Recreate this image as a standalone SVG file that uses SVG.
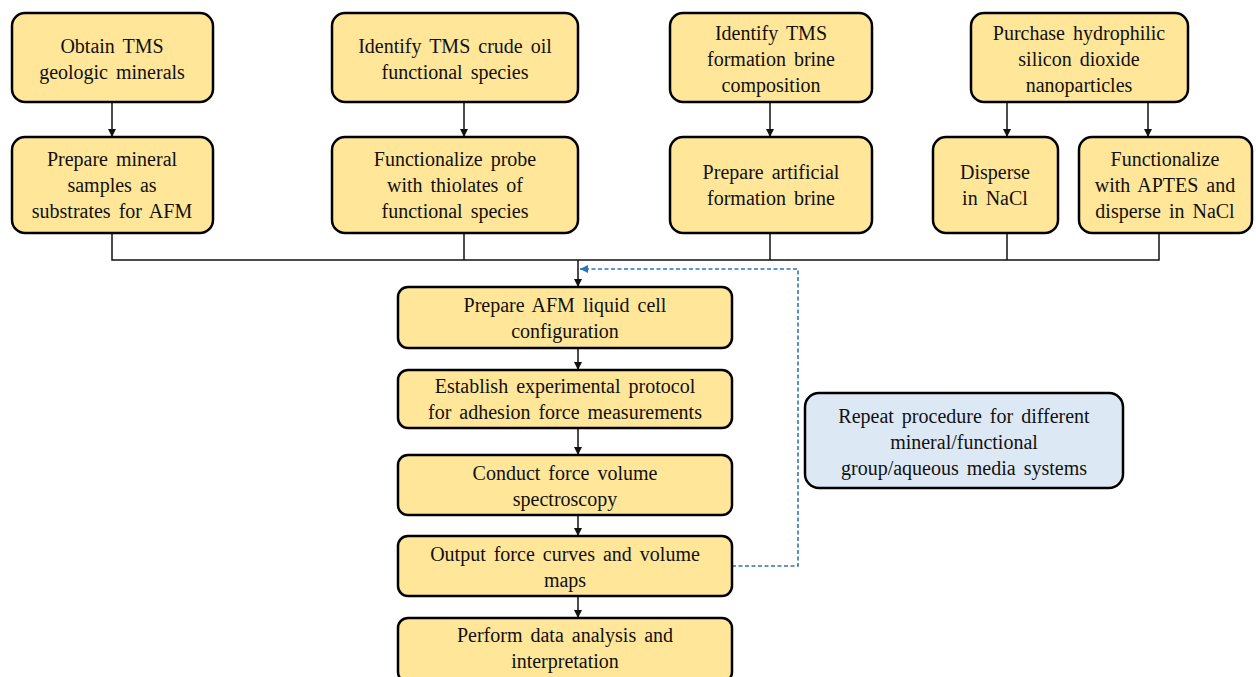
<svg xmlns="http://www.w3.org/2000/svg" width="1256" height="677" viewBox="0 0 1256 677">
<style>
.box{fill:#ffe699;stroke:#000;stroke-width:2.5}
.rep{fill:#dde8f5;stroke:#000;stroke-width:2.5}
text{font-family:'Liberation Serif','Times New Roman',Times,'DejaVu Serif',serif;font-size:20px;fill:#111;text-anchor:middle;word-spacing:3px}
.ln{fill:none;stroke:#111;stroke-width:1.5}
.dash{fill:none;stroke:#2e75b6;stroke-width:1.6;stroke-dasharray:4 2.5}
</style>
<defs>
<marker id="ah" markerWidth="8" markerHeight="8" refX="8" refY="4" orient="auto" markerUnits="userSpaceOnUse"><path d="M0,0 L8,4 L0,8 Z" fill="#111"/></marker>
<marker id="ahb" markerWidth="8" markerHeight="8" refX="8" refY="4" orient="auto" markerUnits="userSpaceOnUse"><path d="M0,0 L8,4 L0,8 Z" fill="#2e75b6"/></marker>
</defs>
<rect width="1256" height="677" fill="#fff"/>
<g id="connectors">
<path class="ln" d="M112,102 V137" marker-end="url(#ah)"/>
<path class="ln" d="M464,102 V137" marker-end="url(#ah)"/>
<path class="ln" d="M770,102 V137" marker-end="url(#ah)"/>
<path class="ln" d="M1007,102 V137" marker-end="url(#ah)"/>
<path class="ln" d="M1148,102 V137" marker-end="url(#ah)"/>
<path class="ln" d="M112,233 V260 H1159 V233"/>
<path class="ln" d="M464,233 V260"/>
<path class="ln" d="M770,233 V260"/>
<path class="ln" d="M1007,233 V260"/>
<path class="ln" d="M578,260 V287" marker-end="url(#ah)"/>
<path class="ln" d="M578,348 V370" marker-end="url(#ah)"/>
<path class="ln" d="M578,428 V455" marker-end="url(#ah)"/>
<path class="ln" d="M578,515 V536" marker-end="url(#ah)"/>
<path class="ln" d="M578,596 V618" marker-end="url(#ah)"/>
<path class="dash" d="M732,566 H798 V269 H580" marker-end="url(#ahb)"/>
</g>
<g font-family="Liberation Serif, serif">
<g id="n1"><rect class="box" x="12" y="13" width="201" height="89" rx="13"/><text x="112" y="53">Obtain TMS</text><text x="112" y="79">geologic minerals</text></g>
<g id="n1b"><rect class="box" x="12" y="137" width="201" height="96" rx="13"/><text x="112" y="166">Prepare mineral</text><text x="112" y="192">samples as</text><text x="112" y="218">substrates for AFM</text></g>
<g id="n2"><rect class="box" x="332" y="13" width="246" height="89" rx="13"/><text x="455" y="53">Identify TMS crude oil</text><text x="455" y="79">functional species</text></g>
<g id="n2b"><rect class="box" x="332" y="137" width="246" height="96" rx="13"/><text x="455" y="166">Functionalize probe</text><text x="455" y="192">with thiolates of</text><text x="455" y="218">functional species</text></g>
<g id="n3"><rect class="box" x="670" y="13" width="202" height="89" rx="13"/><text x="771" y="40">Identify TMS</text><text x="771" y="66">formation brine</text><text x="771" y="92">composition</text></g>
<g id="n3b"><rect class="box" x="670" y="137" width="202" height="96" rx="13"/><text x="771" y="179">Prepare artificial</text><text x="771" y="205">formation brine</text></g>
<g id="n4"><rect class="box" x="971" y="13" width="217" height="89" rx="13"/><text x="1079" y="40">Purchase hydrophilic</text><text x="1079" y="66">silicon dioxide</text><text x="1079" y="92">nanoparticles</text></g>
<g id="n4a"><rect class="box" x="933" y="137" width="125" height="96" rx="13"/><text x="995" y="179">Disperse</text><text x="995" y="205">in NaCl</text></g>
<g id="n4b"><rect class="box" x="1079" y="137" width="173" height="96" rx="13"/><text x="1165" y="166">Functionalize</text><text x="1165" y="192">with APTES and</text><text x="1165" y="218">disperse in NaCl</text></g>
<g id="c1"><rect class="box" x="398" y="287" width="334" height="61" rx="10"/><text x="565" y="312">Prepare AFM liquid cell</text><text x="565" y="338">configuration</text></g>
<g id="c2"><rect class="box" x="398" y="370" width="334" height="58" rx="10"/><text x="565" y="393">Establish experimental protocol</text><text x="565" y="419">for adhesion force measurements</text></g>
<g id="c3"><rect class="box" x="398" y="455" width="334" height="60" rx="10"/><text x="565" y="480">Conduct force volume</text><text x="565" y="506">spectroscopy</text></g>
<g id="c4"><rect class="box" x="398" y="536" width="334" height="60" rx="10"/><text x="565" y="561">Output force curves and volume</text><text x="565" y="587">maps</text></g>
<g id="c5"><rect class="box" x="398" y="618" width="334" height="64" rx="10"/><text x="565" y="642">Perform data analysis and</text><text x="565" y="668">interpretation</text></g>
<g id="rep"><rect class="rep" x="805" y="393" width="318" height="95" rx="14"/><text x="964" y="423">Repeat procedure for different</text><text x="964" y="449">mineral/functional</text><text x="964" y="475">group/aqueous media systems</text></g>
</g>
</svg>
